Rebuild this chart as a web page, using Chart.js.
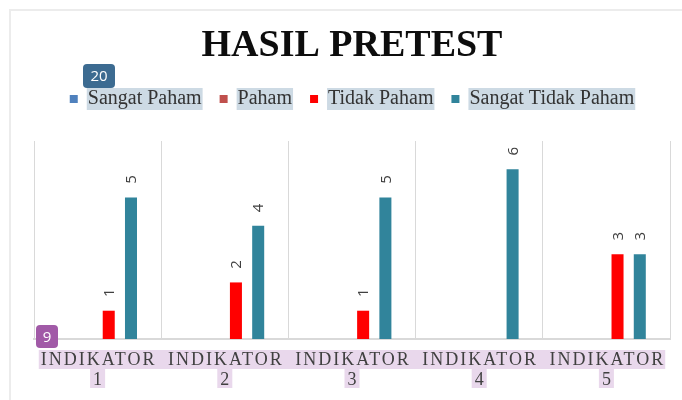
<!DOCTYPE html>
<html>
<head>
<meta charset="utf-8">
<script src="https://cdn.jsdelivr.net/npm/chart.js@4.4.0/dist/chart.umd.min.js"></script>
<style>
    html, body { margin: 0; padding: 0; background: #fff; }
    #wrap { position: relative; width: 682px; height: 400px; overflow: hidden; }
    #frame { position: absolute; left: 9px; top: 9px; right: -10px; bottom: -10px;
             border-left: 2px solid #ececec; border-top: 2px solid #ececec; }
    canvas { position: absolute; left: 0; top: 0; }
</style>
</head>
<body>
<div id="wrap">
    <div id="frame"></div>
    <canvas id="pretestChart" width="682" height="400"></canvas>
</div>
<script>
// hasil pretest
const CATEGORIES = ['1', '2', '3', '4', '5'];
const AXIS_WORD = 'INDIKATOR';
const SERIES = ['Sangat Paham', 'Paham', 'Tidak Paham', 'Sangat Tidak Paham'];
const SANGAT_PAHAM = [0, 0, 0, 0, 0];
const PAHAM = [0, 0, 0, 0, 0];
const TIDAK_PAHAM = [1, 2, 1, 0, 3];
const SANGAT_TIDAK_PAHAM = [5, 4, 5, 6, 3];
const Y_MAX = 7;
const COLORS = ['#4f81bd', '#c0504d', '#ff0000', '#31849b'];

const TEXT_COLOR = '#404040';

function badge(ctx, x, y, w, h, color, label) {
    ctx.save();
    ctx.fillStyle = color;
    ctx.beginPath();
    if (ctx.roundRect) ctx.roundRect(x, y, w, h, 4); else ctx.rect(x, y, w, h);
    ctx.fill();
    ctx.fillStyle = '#fff';
    ctx.font = '15px "Open Sans"';
    ctx.textAlign = 'center';
    ctx.textBaseline = 'middle';
    ctx.fillText(label, x + w / 2, y + h / 2 + 1);
    ctx.restore();
}

const decorPlugin = {
    id: 'decor',
    beforeDraw(chart) {
        // highlight behind legend texts
        const lg = chart.legend;
        if (!lg || !lg.legendHitBoxes) return;
        const lo = lg.options.labels;
        const ctx = chart.ctx;
        ctx.save();
        ctx.fillStyle = '#cddae4';
        lg.legendHitBoxes.forEach(h => {
            const tx = h.left + lo.boxWidth + lo.font.size / 2;
            const cy = h.top + h.height / 2;
            ctx.fillRect(tx - 1, cy - 11, h.left + h.width - tx + 2, 22);
        });
        ctx.restore();
    },
    afterDatasetsDraw(chart) {
        // rotated value labels above the bars
        const ctx = chart.ctx;
        ctx.save();
        ctx.fillStyle = TEXT_COLOR;
        ctx.font = '15px "Open Sans"';
        ctx.textAlign = 'center';
        ctx.textBaseline = 'middle';
        chart.data.datasets.forEach((ds, di) => {
            chart.getDatasetMeta(di).data.forEach((bar, i) => {
                const v = ds.data[i];
                if (!v) return;
                ctx.save();
                ctx.translate(bar.x + 1, bar.y - 18);
                ctx.rotate(-Math.PI / 2);
                ctx.fillText(String(v), 0, 0);
                ctx.restore();
            });
        });
        ctx.restore();
    },
    afterDraw(chart) {
        const ctx = chart.ctx;
        const xs = chart.scales.x;
        ctx.save();
        ctx.font = '18px "Liberation Serif"';
        if ('letterSpacing' in ctx) ctx.letterSpacing = '2px';
        const wordW = ctx.measureText(AXIS_WORD).width;
        const first = xs.getPixelForValue(0), last = xs.getPixelForValue(CATEGORIES.length - 1);

        // category label highlight
        ctx.fillStyle = '#e9d8ec';
        ctx.fillRect(first - wordW / 2 - 1, 350, last - first + wordW + 2, 19);
        CATEGORIES.forEach((c, i) => {
            const x = xs.getPixelForValue(i);
            const nw = ctx.measureText(c).width;
            ctx.fillRect(x - nw / 2 - 2, 369, nw + 4, 19);
        });

        ctx.fillStyle = TEXT_COLOR;
        ctx.textAlign = 'center';
        ctx.textBaseline = 'alphabetic';
        CATEGORIES.forEach((c, i) => {
            const x = xs.getPixelForValue(i);
            ctx.fillText(AXIS_WORD, x + 1, 365);
            ctx.fillText(c, x + 1, 385);
        });
        ctx.restore();

        badge(ctx, 83, 64, 32, 24, '#3c6b91', '20');
        badge(ctx, 36, 325, 22, 23, '#a15aa7', '9');
    }
};

const ctx = document.getElementById('pretestChart');
new Chart(ctx, {
    type: 'bar',
    data: {
        labels: CATEGORIES,
        datasets: [
            { label: SERIES[0], data: SANGAT_PAHAM, backgroundColor: COLORS[0], borderWidth: 0 },
            { label: SERIES[1], data: PAHAM, backgroundColor: COLORS[1], borderWidth: 0 },
            { label: SERIES[2], data: TIDAK_PAHAM, backgroundColor: COLORS[2], borderWidth: 0 },
            { label: SERIES[3], data: SANGAT_TIDAK_PAHAM, backgroundColor: COLORS[3], borderWidth: 0 },
        ]
    },
    options: {
        responsive: false,
        animation: false,
        categoryPercentage: 0.70,
        barPercentage: 0.54,
        layout: { padding: { top: 0, left: 34, right: 12, bottom: 61 } },
        plugins: {
            title: {
                display: true,
                text: 'HASIL PRETEST',
                color: '#0d0d0d',
                font: { family: '"Liberation Serif"', size: 38, weight: 'bold', lineHeight: 1 },
                padding: { top: 27, bottom: 6 }
            },
            subtitle: {
                // spacer between legend and plot
                display: true,
                text: '',
                weight: 500,
                font: { size: 1, lineHeight: 1 },
                padding: { top: 0, bottom: 21 }
            },
            legend: {
                position: 'top',
                labels: {
                    color: '#333',
                    font: { family: '"Liberation Serif"', size: 20, lineHeight: 1 },
                    boxWidth: 8,
                    boxHeight: 8,
                    padding: 18
                }
            },
            tooltip: { enabled: false }
        },
        scales: {
            x: {
                grid: { color: '#d9d9d9', drawTicks: false, offset: true },
                border: { color: '#d9d9d9', width: 2 },
                ticks: { display: false }
            },
            y: {
                display: false,
                min: 0,
                max: Y_MAX
            }
        }
    },
    plugins: [decorPlugin]
});
</script>
</body>
</html>
